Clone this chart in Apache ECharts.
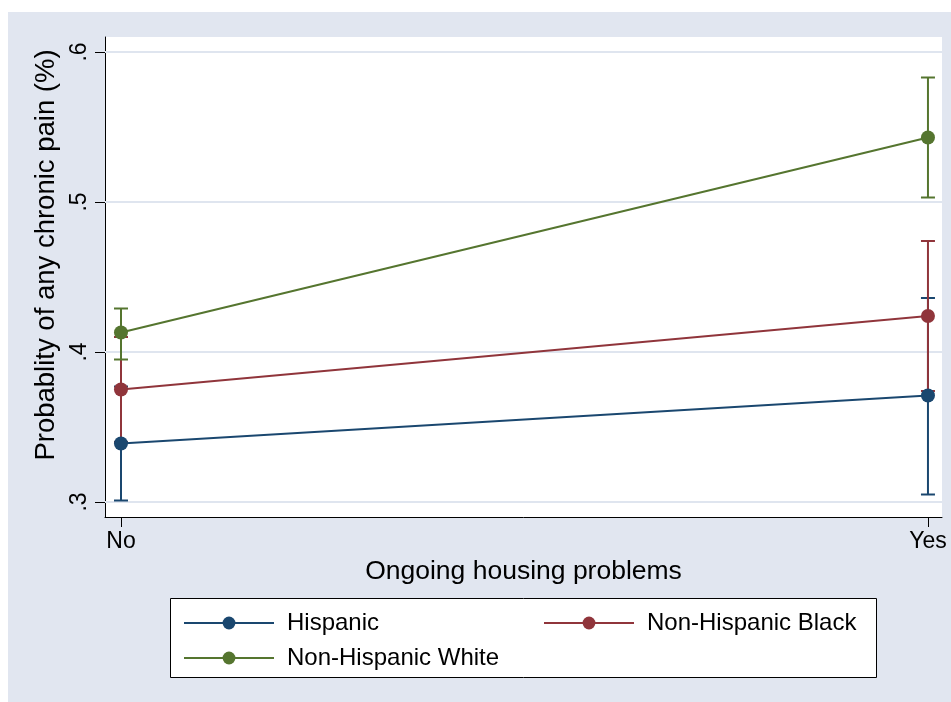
<!DOCTYPE html>
<html>
<head>
<meta charset="utf-8">
<script src="https://cdn.jsdelivr.net/npm/echarts@6/dist/echarts.min.js"></script>
<style>
  html, body { margin: 0; padding: 0; background: #fff; }
  #main { width: 951px; height: 702px; }
</style>
</head>
<body>
<div id="main"></div>
<script>
// x categories and y ticks
const categories = ['No', 'Yes'];
const yTicks = [0.3, 0.4, 0.5, 0.6];

// margins with 95% CI
const hispanic = [0.339, 0.371];
const hispanicLo = [0.301, 0.305];
const hispanicHi = [0.377, 0.436];

const black = [0.375, 0.424];
const blackLo = [0.340, 0.374];
const blackHi = [0.410, 0.474];

const white = [0.413, 0.543];
const whiteLo = [0.395, 0.503];
const whiteHi = [0.429, 0.583];

const names = ['Hispanic', 'Non-Hispanic Black', 'Non-Hispanic White'];
const colors = ['#1a476f', '#90353b', '#55752f'];
const FONT = '"Liberation Sans", Arial, sans-serif';

const chart = echarts.init(document.getElementById('main'), null, { renderer: 'canvas' });

function pts(vals) {
  return vals.map(function (v, i) { return [i, v]; });
}
function ci(lo, hi) {
  return lo.map(function (v, i) { return [i, v, hi[i]]; });
}

function ciSeries(name, color, lo, hi) {
  return {
    type: 'custom',
    name: name + ' CI',
    z: 2,
    silent: true,
    data: ci(lo, hi),
    renderItem: function (params, api) {
      const top = api.coord([api.value(0), api.value(2)]);
      const bot = api.coord([api.value(0), api.value(1)]);
      const w = 7;
      const style = { stroke: color, lineWidth: 2 };
      return {
        type: 'group',
        children: [
          { type: 'line', shape: { x1: top[0], y1: top[1], x2: bot[0], y2: bot[1] }, style: style },
          { type: 'line', shape: { x1: top[0] - w, y1: top[1], x2: top[0] + w, y2: top[1] }, style: style },
          { type: 'line', shape: { x1: bot[0] - w, y1: bot[1], x2: bot[0] + w, y2: bot[1] }, style: style }
        ]
      };
    }
  };
}

function lineSeries(name, color, vals) {
  return {
    type: 'line',
    name: name,
    z: 3,
    data: pts(vals),
    symbol: 'circle',
    symbolSize: 14,
    itemStyle: { color: color },
    lineStyle: { color: color, width: 2 },
    emphasis: { disabled: true }
  };
}

const legendBase = {
  orient: 'horizontal',
  padding: 0,
  itemWidth: 90,
  itemHeight: 16,
  itemGap: 0,
  selectedMode: false,
  textStyle: { fontFamily: FONT, fontSize: 24, color: '#000', padding: [0, 0, 0, 8] }
};

const option = {
  animation: false,
  backgroundColor: '#fff',
  graphic: [
    {
      type: 'rect', z: -100, silent: true,
      shape: { x: 8, y: 12, width: 943, height: 690 },
      style: { fill: '#e1e6f0' }
    },
    {
      type: 'rect', z: -50, silent: true,
      shape: { x: 170.5, y: 598.5, width: 706, height: 79 },
      style: { fill: '#fff', stroke: '#000', lineWidth: 1 }
    }
  ],
  legend: [
    Object.assign({}, legendBase, { data: [names[0]], left: 183, top: 611 }),
    Object.assign({}, legendBase, { data: [names[1]], left: 543, top: 611 }),
    Object.assign({}, legendBase, { data: [names[2]], left: 183, top: 646 })
  ],
  grid: {
    left: 105,
    right: 9,
    top: 37,
    bottom: 185,
    show: true,
    backgroundColor: '#fff',
    borderWidth: 0
  },
  xAxis: {
    type: 'value',
    min: -0.0198,
    max: 1.0174,
    name: 'Ongoing housing problems',
    nameLocation: 'middle',
    nameGap: 38,
    nameTextStyle: { fontFamily: FONT, fontSize: 26.5, color: '#000' },
    axisLine: { show: true, onZero: false, lineStyle: { color: '#000', width: 1 } },
    axisTick: { show: true, length: 10, customValues: [0, 1], lineStyle: { color: '#000' } },
    axisLabel: {
      customValues: [0, 1],
      margin: 13,
      fontFamily: FONT, fontSize: 23, color: '#000',
      formatter: function (v) { return categories[Math.round(v)]; }
    },
    splitLine: { show: false }
  },
  yAxis: {
    type: 'value',
    min: 0.29,
    max: 0.61,
    name: 'Probablity of any chronic pain (%)',
    nameLocation: 'middle',
    nameGap: 43,
    nameTextStyle: { fontFamily: FONT, fontSize: 27.5, color: '#000', padding: [0, 0, 0, 44] },
    axisLine: { show: true, onZero: false, lineStyle: { color: '#000', width: 1 } },
    axisTick: { show: true, length: 10, customValues: yTicks, lineStyle: { color: '#000' } },
    axisLabel: {
      customValues: yTicks,
      rotate: 90,
      margin: 14,
      fontFamily: FONT, fontSize: 23, color: '#000',
      formatter: function (v) { return '.' + Math.round(v * 10); }
    },
    splitLine: { show: false }
  },
  series: [
    {
      type: 'custom',
      name: 'grid',
      z: 1,
      silent: true,
      data: yTicks.map(function (t) { return [t]; }),
      renderItem: function (params, api) {
        const cs = params.coordSys;
        const p = api.coord([0, api.value(0)]);
        return {
          type: 'line',
          shape: { x1: cs.x, y1: p[1], x2: cs.x + cs.width, y2: p[1] },
          style: { stroke: '#dfe5ef', lineWidth: 2 }
        };
      }
    },
    ciSeries(names[0], colors[0], hispanicLo, hispanicHi),
    ciSeries(names[1], colors[1], blackLo, blackHi),
    ciSeries(names[2], colors[2], whiteLo, whiteHi),
    lineSeries(names[0], colors[0], hispanic),
    lineSeries(names[1], colors[1], black),
    lineSeries(names[2], colors[2], white)
  ]
};

chart.setOption(option);
</script>
</body>
</html>
